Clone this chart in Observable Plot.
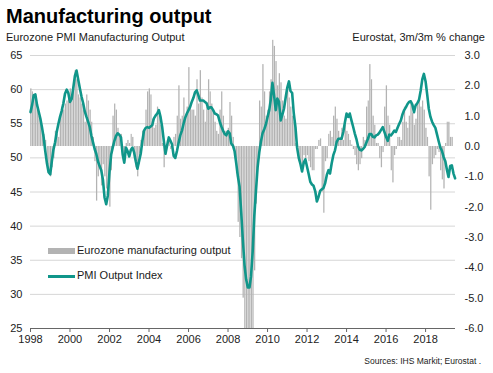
<!DOCTYPE html>
<html><head><meta charset="utf-8">
<script src="https://cdn.jsdelivr.net/npm/d3@7"></script>
<script src="https://cdn.jsdelivr.net/npm/@observablehq/plot@0.6"></script>
<style>
body{margin:0;background:#fff;font-family:"Liberation Sans",Arial,sans-serif;}
#wrap{position:relative;width:493px;height:373px;overflow:hidden;background:#fff;}
.t{position:absolute;line-height:1;white-space:nowrap;color:#1a1a1a;}
#chart{position:absolute;left:0;top:40px;}
.sw{position:absolute;}
</style></head><body>
<div id="wrap">
 <div class="t" style="left:6px;top:6px;font-size:20px;font-weight:bold;color:#000">Manufacturing output</div>
 <div class="t" style="left:6px;top:32px;font-size:11px">Eurozone PMI Manufacturing Output</div>
 <div class="t" style="right:8px;top:32px;font-size:11px">Eurostat, 3m/3m % change</div>
 <div id="chart"></div>
 <div class="sw" style="left:48px;top:248px;width:27px;height:6px;background:#b3b3b3"></div>
 <div class="t" style="left:77px;top:245px;font-size:11px">Eurozone manufacturing output</div>
 <div class="sw" style="left:48px;top:275px;width:27px;height:2.6px;background:#10968a"></div>
 <div class="t" style="left:77px;top:270px;font-size:11px">PMI Output Index</div>
 <div class="t" style="right:12px;top:357px;font-size:8.5px">Sources: IHS Markit; Eurostat .</div>
</div>
<script>
// Monthly data starting January 1998
const startYear = 1998;
// Eurozone PMI Manufacturing Output Index (left axis)
const pmiOutput = [
 56.7,57.8,59.2,59.3,57.8,56.8,55.8,54.5,53.0,51.0,49.2,47.9,
 47.6,49.6,51.2,52.3,53.8,55.0,56.0,56.9,58.0,59.4,60.0,59.5,
 58.2,58.6,60.2,62.0,62.8,61.5,60.2,59.0,58.0,56.8,56.0,55.3,
 54.5,53.2,52.3,51.3,50.6,49.5,48.8,48.2,46.8,44.2,43.2,44.5,
 48.0,50.5,51.5,52.5,53.2,53.6,53.4,53.0,50.5,49.3,51.5,51.0,
 50.2,51.2,51.5,50.8,49.5,48.4,49.5,50.6,52.5,54.0,54.4,54.5,
 54.4,54.6,54.8,55.8,56.2,56.5,57.0,56.0,54.5,52.5,50.6,51.8,
 53.0,52.5,52.0,50.3,50.0,51.0,52.2,53.3,54.0,55.0,55.9,56.5,
 57.0,57.5,58.2,58.8,59.6,59.9,59.2,58.4,58.4,58.4,58.2,58.0,
 57.2,57.4,57.4,57.0,56.5,56.4,56.2,55.3,54.6,54.0,53.5,53.3,
 53.9,53.6,52.1,51.8,51.0,49.2,47.3,45.8,42.0,38.0,34.3,32.2,
 31.0,31.0,32.6,36.3,41.5,45.2,48.6,50.8,52.4,53.6,54.2,54.9,
 56.0,57.0,58.5,61.0,59.2,57.0,58.7,58.2,55.5,56.3,57.2,58.8,
 60.3,61.2,59.8,59.5,56.5,54.5,51.5,50.0,49.1,48.0,49.3,49.8,
 48.7,47.6,46.5,46.1,45.9,45.1,43.6,44.3,45.2,45.4,45.6,46.3,
 47.5,48.2,47.7,49.2,50.4,51.1,52.3,52.8,52.8,52.8,53.8,55.2,
 56.5,56.0,56.5,55.5,54.6,53.6,52.8,51.7,51.2,51.1,51.3,51.6,
 52.2,52.8,53.5,53.5,53.1,53.0,53.3,53.4,53.7,54.1,54.5,53.8,
 53.1,52.5,53.4,53.3,53.6,54.0,53.8,54.4,55.0,55.5,56.4,57.0,
 57.4,57.9,58.2,58.3,57.8,56.7,57.7,58.0,58.5,59.8,61.5,62.3,
 61.2,59.2,57.2,56.0,55.3,54.8,54.4,53.4,52.4,51.5,51.0,50.1,
 49.5,48.2,47.2,48.8,48.9,47.7,47.0
];
// Eurostat manufacturing output, 3m/3m % change (right axis)
const eurostatChange = [
 1.9,1.8,1.6,1.5,1.2,1.0,0.9,0.6,0.4,0.2,-0.5,-0.9,
 -1.0,-0.7,-0.4,0.5,0.4,0.3,1.0,1.3,1.2,1.4,1.5,1.6,
 1.9,1.5,1.8,2.5,2.2,1.7,1.6,1.4,1.2,0.8,1.7,1.5,
 1.2,0.8,0.3,-0.5,-1.8,-1.0,-0.7,-1.3,-0.6,-1.0,-1.4,-1.6,
 -2.0,-0.8,1.0,1.4,1.2,0.6,0.3,0.4,-0.3,-0.5,0.1,0.2,
 0.1,0.4,0.3,-0.4,-0.7,-1.0,-0.6,0.2,0.5,0.5,1.2,1.8,
 1.9,1.7,0.9,0.6,0.7,1.3,1.0,0.7,0.1,-0.7,-0.3,0.2,
 0.2,-0.1,0.1,0.3,0.4,1.0,2.0,0.9,1.0,1.6,1.0,1.3,
 2.6,1.3,1.2,1.2,1.0,2.2,1.4,2.5,1.6,1.2,0.8,1.3,
 2.2,1.8,1.4,1.1,0.8,0.5,0.4,1.2,1.8,1.0,0.5,0.5,
 0.6,1.45,1.0,0.3,-0.2,-0.9,-2.5,-3.0,-3.7,-5.0,-6.0,-6.0,
 -6.0,-6.0,-6.0,-6.0,-4.1,-1.9,-0.5,1.5,1.3,2.7,1.8,1.0,
 1.2,1.8,2.2,3.5,3.3,2.8,2.0,2.4,2.1,1.5,1.0,0.9,
 1.9,1.6,1.3,1.0,0.8,0.1,0.05,-0.5,-0.7,-0.6,-0.3,-0.4,
 -0.3,-0.5,-0.7,-0.8,-0.8,-0.1,-0.1,0.2,0.25,-1.5,-2.2,-0.5,
 -0.4,0.4,0.5,0.3,1.0,1.3,0.9,0.5,0.3,0.6,0.2,0.7,
 0.5,0.4,0.2,0.05,-0.1,-0.3,-0.6,-0.8,-0.6,-0.4,0.3,0.2,
 1.3,1.5,2.7,2.2,1.0,0.7,0.1,0.1,-0.4,-0.7,-0.2,1.3,
 2.0,1.0,0.7,-0.8,-1.2,-0.3,-0.1,0.3,0.3,0.2,0.8,1.3,
 0.8,0.6,1.0,1.5,1.1,0.7,0.9,1.4,1.5,1.3,1.5,1.2,
 0.6,0.3,-1.0,-2.1,-0.6,-0.4,-0.3,-0.1,-0.2,-0.8,-1.1,-1.4,
 0.1,0.8,0.8,0.3,0.3
];
const leftTicks = [25,30,35,40,45,50,55,60,65];
const rightTicks = [-6,-5,-4,-3,-2,-1,0,1,2,3];
const yearTicks = [1998,2000,2002,2004,2006,2008,2010,2012,2014,2016,2018];

const leftMin = 25, leftMax = 65, rightMin = -6, rightMax = 3;
const toLeft = r => leftMin + (r - rightMin) * (leftMax - leftMin) / (rightMax - rightMin);
const fromLeft = v => rightMin + (v - leftMin) * (rightMax - rightMin) / (leftMax - leftMin);
const month = i => new Date(Date.UTC(startYear, i, 1));

const pmiData = pmiOutput.map((v, i) => ({date: month(i), value: v}));
const barData = eurostatChange.map((r, i) => ({date: month(i), end: month(i + 1), r}));

const teal = "#10968a";
const chart = Plot.plot({
  width: 493, height: 318,
  marginLeft: 30, marginRight: 38, marginTop: 15, marginBottom: 30,
  style: {fontFamily: "Liberation Sans, Arial, sans-serif", fontSize: "11px", color: "#222", background: "transparent", overflow: "visible"},
  x: {type: "utc", domain: [new Date(Date.UTC(1998, 0, 1)), new Date(Date.UTC(2019, 6, 8))], label: null},
  y: {domain: [leftMin, leftMax], label: null},
  marks: [
    Plot.ruleY(leftTicks.filter(d => d > leftMin), {stroke: "#d6d6d6", strokeWidth: 1}),
    Plot.rect(barData, {x1: "date", x2: "end", y1: () => toLeft(0), y2: d => toLeft(d.r), fill: "#b3b3b3", insetLeft: 0.2, insetRight: 0.2}),
    Plot.line(pmiData, {x: "date", y: "value", stroke: teal, strokeWidth: 2.6}),
    Plot.ruleY([leftMin], {stroke: "#666", strokeWidth: 1}),
    Plot.axisY(leftTicks, {anchor: "left", tickSize: 0, tickPadding: 8, label: null}),
    Plot.axisY(rightTicks.map(toLeft), {anchor: "right", tickSize: 0, tickPadding: 9, label: null, tickFormat: v => fromLeft(v).toFixed(1)}),
    Plot.axisX(yearTicks.map(y => new Date(Date.UTC(y, 0, 1))), {tickSize: 4, tickPadding: 3, label: null, stroke: "#666", tickFormat: d => String(d.getUTCFullYear())})
  ]
});
document.getElementById("chart").appendChild(chart);
</script>
</body></html>
